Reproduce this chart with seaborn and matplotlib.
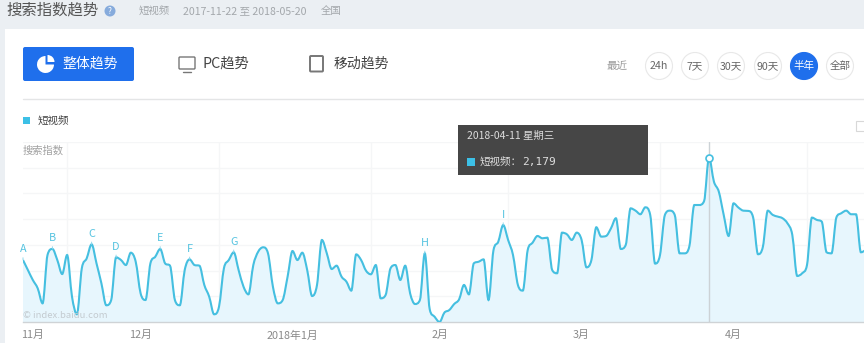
import numpy as np
import pandas as pd
import seaborn as sns
import matplotlib.pyplot as plt
import matplotlib.dates as mdates
from matplotlib.patches import Rectangle, FancyBboxPatch, Circle, Wedge, PathPatch
from matplotlib.path import Path

sns.set_theme(style='white')
plt.rcParams['font.family'] = ['Noto Sans CJK SC', 'DejaVu Sans']

# daily search index
values_a = [1382, 1304, 1227, 1162, 1045, 1421, 1468, 1382, 1273, 1421,
            1097, 960, 1317, 1395, 1504, 1356, 1201, 1030, 1071, 1403,
            1382, 1343, 1439, 1369, 1123, 1071, 1356, 1408, 1468, 1356,
            1338, 1071, 1030, 1304, 1387, 1343, 1338, 1188, 1097, 960,
            1019, 1317, 1382, 1442, 1304, 1175, 1115, 1343, 1447, 1481,
            1434, 1175, 1045, 1071, 1253]
values_b = [1452, 1382, 1439, 1304, 1102, 1188, 1538, 1434, 1312, 1338,
            1253, 1214, 1144, 1426, 1382, 1299, 1271, 1343, 1084, 1110,
            1317, 1343, 1227, 1338, 1123, 1040, 1071, 1434, 999, 941,
            900, 973, 993, 1040, 1076, 1188, 1115, 1356, 1369, 1387,
            1071, 1455, 1525, 1654, 1538, 1421, 1188, 1144, 1460, 1517,
            1569, 1551, 1556, 1304, 1279, 1595, 1582, 1538, 1595]
values_c = [1538, 1325, 1382, 1637, 1564, 1569, 1629, 1707, 1468, 1499,
            1784, 1766, 1738, 1792, 1733, 1354, 1421, 1733, 1766, 1733,
            1434, 1434, 1491, 1810, 1810, 1841, 2179, 1992, 1914, 1733,
            1569, 1823, 1790, 1766, 1764, 1714, 1427, 1486, 1766, 1733,
            1720, 1707, 1668, 1577, 1258, 1279, 1344, 1712, 1694, 1681,
            1442, 1434, 1714, 1746, 1766, 1738, 1738, 1442, 1460]
values = values_a + values_b + values_c
dates = pd.date_range('2017-11-22', periods=len(values), freq='D')

month_starts = ['2017-12-01', '2018-01-01', '2018-02-01', '2018-03-01', '2018-04-01', '2018-05-01']
month_mids = ['2017-11-24', '2017-12-16', '2018-01-16', '2018-02-15', '2018-03-16', '2018-04-16']
month_labels = ['11月', '12月', '2018年1月', '2月', '3月', '4月']
marker_dates = ['2017-11-22', '2017-11-28', '2017-12-06', '2017-12-11', '2017-12-20',
                '2017-12-26', '2018-01-04', '2018-02-12', '2018-02-28']
marker_labels = ['A', 'B', 'C', 'D', 'E', 'F', 'G', 'H', 'I']
range_labels = ['24h', '7天', '30天', '90天', '半年', '全部']
range_x = [659, 695, 731, 768, 804, 840]

LINE = '#45bfe0'
BLUE = '#1f6fec'

df = pd.DataFrame({'date': dates, 'value': values})
fig = plt.figure(figsize=(8.64, 3.43), dpi=100, facecolor='white')
W, H = 864, 343

ax = fig.add_axes([23 / W, (H - 322) / H, (W - 23) / W, 180 / H])
sns.lineplot(data=df, x='date', y='value', ax=ax, color=LINE, linewidth=0)


def smooth_path(xs, ys, base=None):
    # bezier through the points, central-difference tangents, flat only at turning points
    dy = np.diff(ys)
    t = np.zeros(len(ys))
    for i in range(1, len(ys) - 1):
        if dy[i - 1] * dy[i] > 0:
            lim = 3 * min(abs(dy[i - 1]), abs(dy[i]))
            t[i] = np.sign(dy[i]) * min(abs(dy[i - 1] + dy[i]) / 2, lim)
    t[0], t[-1] = dy[0], dy[-1]
    verts = [(xs[0], ys[0])]
    codes = [Path.MOVETO]
    for i in range(len(ys) - 1):
        h = xs[i + 1] - xs[i]
        verts += [(xs[i] + h / 3, ys[i] + t[i] / 3),
                  (xs[i + 1] - h / 3, ys[i + 1] - t[i + 1] / 3),
                  (xs[i + 1], ys[i + 1])]
        codes += [Path.CURVE4] * 3
    if base is not None:
        verts += [(xs[-1], base), (xs[0], base), (xs[0], ys[0])]
        codes += [Path.LINETO, Path.LINETO, Path.CLOSEPOLY]
    return Path(verts, codes)


xnum = mdates.date2num(dates)
yval = np.array(values, dtype=float)
ax.add_patch(PathPatch(smooth_path(xnum, yval, base=900), facecolor='#e7f6fd', edgecolor='none', zorder=1.5))
ax.add_patch(PathPatch(smooth_path(xnum, yval), facecolor='none', edgecolor=LINE, linewidth=1.5, zorder=3))

ax.set_xlim(dates[0], dates[0] + pd.Timedelta(days=171.63))
ax.set_ylim(900, 2300)
ax.set_xlabel('')
ax.set_ylabel('')
ax.patch.set_alpha(0)
sns.despine(ax=ax, left=True, top=True, right=True)
ax.spines['bottom'].set_color('#cfd3d6')
ax.spines['bottom'].set_linewidth(1)
ax.set_yticks(np.arange(900, 2301, 200))
ax.set_yticklabels([])
ax.set_xticks(pd.to_datetime(month_starts))
ax.set_xticklabels([])
ax.set_xticks(pd.to_datetime(month_mids), labels=month_labels, minor=True)
ax.tick_params(axis='both', which='both', length=0)
ax.tick_params(axis='x', which='minor', labelsize=7.8, labelcolor='#8a8a8a', pad=6)
ax.grid(True, which='major', color='#f5f6f7', linewidth=1)
ax.set_axisbelow(True)

# letter flags above the curve
for d, lab in zip(marker_dates, marker_labels):
    when = pd.Timestamp(d)
    v = df.loc[df['date'] == when, 'value'].iloc[0]
    ax.annotate(lab, xy=(when, v), xytext=(0, 4), textcoords='offset points', ha='center', va='bottom',
                fontsize=7.8, color='#55c3e0', annotation_clip=False,
                arrowprops=dict(arrowstyle='-', color='#8fd8ec', lw=0.7, shrinkA=0, shrinkB=0))

# highlighted day
peak = pd.Timestamp('2018-04-11')
ax.axvline(peak, color='#ccd2d6', linewidth=1, zorder=2)
ax.plot([peak], [2179], marker='o', markersize=5, markerfacecolor='white', markeredgecolor=LINE,
        markeredgewidth=1.2, zorder=4)

# page furniture in pixel coordinates
ui = fig.add_axes([0, 0, 1, 1], zorder=5)
ui.set_xlim(0, W)
ui.set_ylim(H, 0)
ui.axis('off')

ui.add_patch(Rectangle((0, 0), W, 29, facecolor='#ebeff3', edgecolor='none'))
ui.add_patch(Rectangle((0, 29), 5, H - 29, facecolor='#ebeff3', edgecolor='none'))
ui.text(6, 10, '搜索指数趋势', fontsize=11.1, color='#555555', va='center')
ui.add_patch(Circle((110, 11), 5.5, facecolor='#86abdc', edgecolor='none'))
ui.text(110, 11, '?', fontsize=6, color='white', ha='center', va='center')
ui.text(139, 11, '短视频', fontsize=7.5, color='#a3a7ab', va='center')
ui.text(183, 11, '2017-11-22 至 2018-05-20', fontsize=7.6, color='#a3a7ab', va='center')
ui.text(321, 11, '全国', fontsize=7.5, color='#a3a7ab', va='center')

ui.add_patch(FancyBboxPatch((23, 47), 111, 34, boxstyle='round,pad=0,rounding_size=2', facecolor=BLUE, edgecolor='none'))
ui.add_patch(Wedge((45.5, 64.5), 8.5, 0, 270, facecolor='white', edgecolor='none'))
ui.add_patch(Wedge((47.5, 62), 7, 270, 360, facecolor='white', edgecolor='none'))
ui.text(62, 64, '整体趋势', fontsize=10, color='white', va='center')

ui.add_patch(FancyBboxPatch((179, 57), 16, 12, boxstyle='round,pad=0,rounding_size=1', facecolor='none', edgecolor='#777777', linewidth=1))
ui.plot([183, 191], [72, 72], color='#777777', linewidth=1)
ui.text(202, 64, 'PC趋势', fontsize=10.3, color='#444444', va='center')
ui.add_patch(FancyBboxPatch((310, 56), 13, 15.5, boxstyle='round,pad=0,rounding_size=1', facecolor='none', edgecolor='#777777', linewidth=1.4))
ui.text(334, 64, '移动趋势', fontsize=10, color='#444444', va='center')

ui.text(617, 66, '最近', fontsize=7.6, color='#999999', ha='center', va='center')
for x, lab in zip(range_x, range_labels):
    active = lab == '半年'
    ui.add_patch(Circle((x, 66), 13.5, facecolor=BLUE if active else 'white',
                        edgecolor=BLUE if active else '#e8e8e8', linewidth=0.8))
    ui.text(x, 66, lab, fontsize=7.6, color='white' if active else '#666666', ha='center', va='center')

ui.plot([23, W], [99, 99], color='#e4e5e6', linewidth=1)
ui.add_patch(Rectangle((23, 117), 7, 7, facecolor='#3cc0e6', edgecolor='none'))
ui.text(38, 121, '短视频', fontsize=7.6, color='#444444', va='center')
ui.add_patch(Rectangle((856, 121), 10, 10, facecolor='white', edgecolor='#d8d8d8', linewidth=0.8))
ui.text(23, 151, '搜索指数', fontsize=7.4, color='#a0a0a0', va='center')
ui.text(23, 315, '© index.baidu.com', fontsize=6.8, color='#c4cbd0', va='center')

ui.add_patch(Rectangle((458, 125), 190, 50, facecolor='#464646', edgecolor='none'))
ui.text(467, 136, '2018-04-11 星期三', fontsize=7.5, color='#dddddd', va='center')
ui.add_patch(Rectangle((467, 158), 7.5, 7.5, facecolor='#3cc0e6', edgecolor='none'))
ui.text(480, 162, '短视频：', fontsize=7.6, color='#dddddd', va='center')
ui.text(522, 162, '2,179', fontsize=8, color='#dddddd', va='center', family='DejaVu Sans Mono')

fig.savefig('out.png', dpi=100)
